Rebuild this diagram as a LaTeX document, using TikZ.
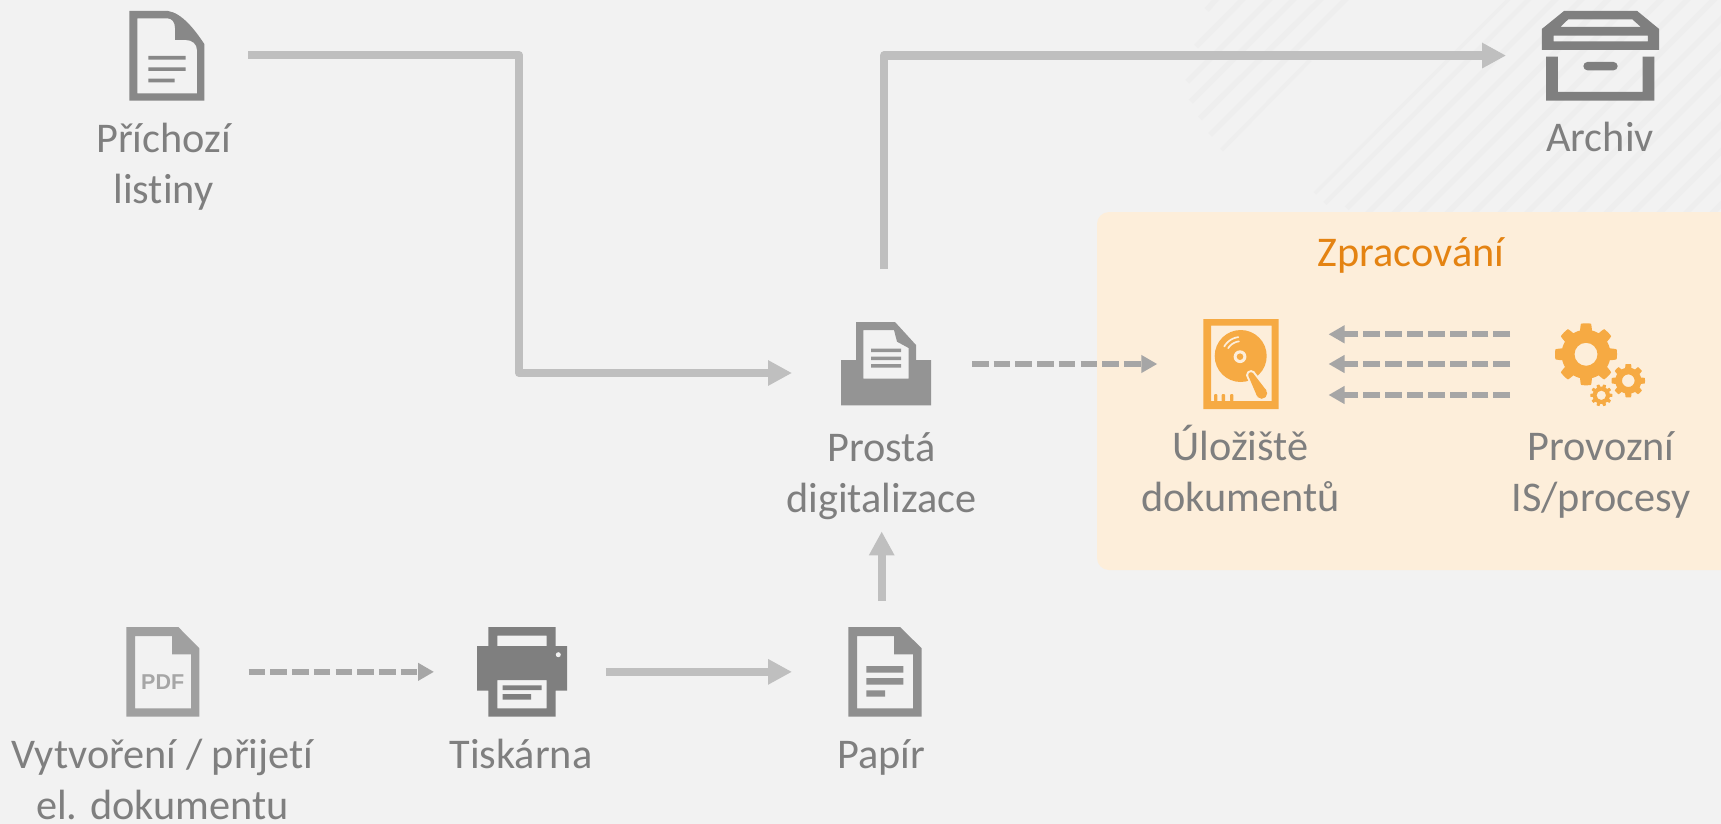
\documentclass[tikz,border=0pt]{standalone}
\usepackage{fontspec}
\setmainfont[Ligatures={NoCommon}]{Carlito}
\newfontfamily\pdffont{Liberation Sans}
\usetikzlibrary{arrows.meta}
\definecolor{bgc}{HTML}{F2F2F2}
\definecolor{hatchc}{HTML}{EEEEEE}
\definecolor{panelc}{HTML}{FDEEDA}
\definecolor{flowc}{HTML}{BFBFBF}
\definecolor{dashc}{HTML}{A6A6A6}
\definecolor{textc}{HTML}{7F7F7F}
\definecolor{accent}{HTML}{F6AA43}
\definecolor{titlec}{HTML}{E48312}
\tikzset{
  x=1pt,y=-1pt,
  iconbox/.style={inner sep=0pt,outer sep=0pt},
  lab/.style={inner sep=0pt,outer sep=0pt,anchor=base,align=center,text=textc,font=\fontsize{42.3}{51}\selectfont},
  flow/.style={draw=flowc,line width=8.3pt,line join=round,-{Triangle[length=24pt,width=24pt]}},
  dashflow/.style={draw=dashc,line width=6pt,dash pattern=on 16.6pt off 5.1pt,-{Triangle[length=16pt,width=17pt]}},
  hatchline/.style={draw=hatchc,line width=5.5pt},
  declare function={gearh(\a,\n)=min(1,max(0,(0.62-2*abs(mod(\a*\n/360+0.5,1)-0.5))/0.2));}
}
\newcommand{\gearshape}[6]{%
  \fill[accent,even odd rule] plot[domain=0:360,samples=361,variable=\a]
   ({#1+(#4+(#3-#4)*gearh(\a,#6))*cos(\a)},{#2+(#4+(#3-#4)*gearh(\a,#6))*sin(\a)}) -- cycle
   (#1,#2) circle[radius=#5pt];}
\begin{document}
\begin{tikzpicture}
\useasboundingbox (0,0) rectangle (1721,824);
\fill[bgc] (0,0) rectangle (1721,824);
% hatching
\begin{scope}
\clip (0,0) rectangle (1721,824);
\foreach \xa/\ya/\xb/\yb in {1206.7/10/1218/-3, 1196/46.7/1245/-3, 1187.3/81.7/1272/-3, 1190.7/101.7/1296/-3, 1200/118.3/1323/-3, 1210/135/1348/-3}
  \draw[hatchline,line cap=butt] (\xa,\ya) -- (\xb,\yb);
\draw[hatchline,line width=4pt] (1221.7,150) -- (1310,60);
\draw[hatchline,line width=3.5pt] (1315,193.3) -- (1511,-3);
\draw[hatchline,line width=4.5pt] (1325,203.3) -- (1531,-3);
\draw[hatchline] (1346.7,208.3) -- (1558,-3);
\foreach \c in {1581,1607.5,...,1960}
  \draw[hatchline] ({\c-230},230) -- ({\c+3},-3);
\end{scope}
% panel
\fill[panelc,rounded corners=12pt] (1097,212) rectangle (1740,570);
\node[inner sep=0pt,anchor=base,text=titlec,font=\fontsize{42.3}{50}\selectfont] (zprac) at (1411,266.5) {Zpracování};
% icon boxes
\node[iconbox,minimum width=75pt,minimum height=89.7pt] (doc1) at (166.8,55.85) {};
\node[iconbox,minimum width=117.3pt,minimum height=89.7pt] (box) at (1600.5,55.85) {};
\node[iconbox,minimum width=90pt,minimum height=84pt] (scan) at (886,364) {};
\node[iconbox,minimum width=75.4pt,minimum height=90pt] (disk) at (1241,364) {};
\node[iconbox,minimum width=90pt,minimum height=84pt] (gears) at (1600,364) {};
\node[iconbox,minimum width=73pt,minimum height=89.7pt] (pdf) at (162.8,671.85) {};
\node[iconbox,minimum width=90pt,minimum height=89.7pt] (printer) at (522,671.85) {};
\node[iconbox,minimum width=73.4pt,minimum height=89.7pt] (paper) at (885,671.85) {};
% connectors
\coordinate (k1) at (519,200);
\draw[flow] ([xshift=43.7pt,yshift=0.8pt]doc1.east) -| (k1) |- ([xshift=-49pt,yshift=-9pt]scan.west);
\draw[flow] ([xshift=-2pt,yshift=53pt]scan.north) |- ([xshift=-35.8pt,yshift=0.3pt]box.west);
\draw[dashflow] ([xshift=41pt]scan.east) -- ([xshift=-46pt]disk.west);
\draw[dashflow] ([xshift=-45pt,yshift=29.7pt]gears.west) -- ([xshift=49.8pt,yshift=29.7pt]disk.east);
\draw[dashflow] ([xshift=-45pt]gears.west) -- ([xshift=49.8pt]disk.east);
\draw[dashflow] ([xshift=-45pt,yshift=-31pt]gears.west) -- ([xshift=49.8pt,yshift=-31pt]disk.east);
\draw[dashflow] ([xshift=49.4pt]pdf.east) -- ([xshift=-43pt]printer.west);
\draw[flow] ([xshift=39pt]printer.east) -- ([xshift=-56.3pt]paper.west);
\draw[flow] ([xshift=-3.3pt,yshift=26pt]paper.north) -- ([xshift=-4.3pt,yshift=-125.4pt]scan.south);
% incoming document
\fill[color={rgb,255:red,136;green,136;blue,136},even odd rule]
  (129.3,11) -- (168,11) .. controls (182,13) and (195,30) .. (204.3,44) -- (204.3,100.7) -- (129.3,100.7) -- cycle
  (137.3,18.3) -- (137.3,93.3) -- (197,93.3) -- (197,50) .. controls (197,44) and (192,40) .. (186,40) -- (175,40) -- (175,28) .. controls (175,22) and (172,18.3) .. (167,18.3) -- cycle
  (148.3,56) rectangle (185.7,59.7) (148.3,67.3) rectangle (185.7,71) (148.3,78.7) rectangle (174.7,82.5);
% archive
\fill[textc,even odd rule] (1564,11) -- (1637.2,11) -- (1659.1,29) -- (1659.1,50) -- (1541.8,50) -- (1541.8,29) -- cycle
  (1568,19.5) -- (1632.5,19.5) -- (1640.9,27) -- (1560.4,27) -- cycle
  (1553.5,35.7) rectangle (1647.8,41.3);
\fill[textc] (1546.2,56.7) -- (1557.9,56.7) -- (1557.9,92) -- (1642.7,92) -- (1642.7,56.7) -- (1654.4,56.7) -- (1654.4,100.7) -- (1546.2,100.7) -- cycle;
\fill[textc,rounded corners=4pt] (1583.4,62) rectangle (1617.6,70.3);
% scanner
\fill[color={rgb,255:red,148;green,148;blue,148},even odd rule]
  (841,360) -- (856,360) -- (856,322) -- (895,322) -- (916,345) -- (916,360) -- (931,360) -- (931,405.3) -- (841,405.3) -- cycle
  (863.3,330) -- (894,330) -- (897,341.7) -- (908.6,348) -- (908.6,378.7) -- (863.3,378.7) -- cycle
  (871,348.7) rectangle (901,352.2) (871,356.7) rectangle (901,360.2) (871,364) rectangle (901,367.5);
% pdf document
\fill[color={rgb,255:red,160;green,160;blue,160},even odd rule]
  (126.3,627) -- (178.3,627) -- (199.3,648.3) -- (199.3,716.7) -- (126.3,716.7) -- cycle
  (135,636) -- (135,708.3) -- (191,708.3) -- (191,654.3) -- (172,654.3) -- (172,636) -- cycle;
\node[inner sep=0pt,text=dashc,font=\pdffont\bfseries\fontsize{21.5}{24}\selectfont] (pdftxt) at (162.7,682) {PDF};
% printer
\fill[textc,even odd rule]
  (488.3,627) -- (555.7,627) -- (555.7,646) -- (567,646) -- (567,690.7) -- (555.7,690.7) -- (555.7,716.7) -- (488.3,716.7) -- (488.3,690.7) -- (477,690.7) -- (477,646) -- (488.3,646) -- cycle
  (497.3,635.7) rectangle (546.7,646)
  (497.3,680) rectangle (546.7,708.3);
\fill[textc] (502.7,685.3) rectangle (541.7,690) (502.7,694) rectangle (531,699.5);
\fill[bgc] (558.3,654.7) circle[radius=2.5pt];
% paper
\fill[color={rgb,255:red,143;green,143;blue,143},even odd rule]
  (848.3,627) -- (900,627) -- (921.7,648.3) -- (921.7,716.7) -- (848.3,716.7) -- cycle
  (857,636) -- (857,708.3) -- (913,708.3) -- (913,654.3) -- (894,654.3) -- (894,636) -- cycle
  (866.3,666) rectangle (903.3,672.7) (866.3,678) rectangle (903.3,684.7) (866.3,690.3) rectangle (885,696.7);
% disk
\fill[accent,even odd rule] (1203.3,319) rectangle (1278.7,409) (1211,325.7) rectangle (1271.7,401);
\fill[accent] (1240.7,356) circle[radius=26pt];
\fill[panelc] (1240,356.7) circle[radius=6.4pt];
\fill[accent] (1240,356.7) circle[radius=3.3pt];
\draw[panelc,line width=1.7pt,line cap=round] plot[domain=97:150,samples=20,variable=\a] ({1240.7+19*cos(\a)},{356-19*sin(\a)});
\draw[panelc,line width=1.7pt,line cap=round] plot[domain=97:148,samples=20,variable=\a] ({1240.7+14.7*cos(\a)},{356-14.7*sin(\a)});
\fill[panelc,draw=panelc,line width=4pt] (1253.4,373.6) -- (1266.4,390.5) -- (1257,396.1) -- (1248.6,376.4) -- cycle (1251,375) circle[radius=2.8pt] (1261.7,393.3) circle[radius=5.5pt];
\fill[accent] (1253.4,373.6) -- (1266.4,390.5) -- (1257,396.1) -- (1248.6,376.4) -- cycle;
\fill[accent] (1251,375) circle[radius=2.8pt] (1261.7,393.3) circle[radius=5.5pt];
\foreach \tx in {1214,1221.7,1230}
  \fill[accent,rounded corners=1pt] (\tx,394) rectangle ++(3.3,7.5);
% gears
\gearshape{1586}{354.3}{31}{24.5}{11.5}{8}
\gearshape{1628.3}{380.7}{16.7}{13}{6.3}{8}
\gearshape{1601.3}{395.3}{11}{8.6}{4.7}{10}
% labels
\node[lab] (l1) at (163.5,203) {\fontsize{42.3}{50}\selectfont Příchozí\\listiny};
\node[lab] (l2) at (1600,151) {Archiv};
\node[lab] (l3) at (881.4,512) {Prostá\\digitalizace};
\node[lab] (l4) at (1240.6,511) {Úložiště\\dokumentů};
\node[lab] (l5) at (1601,511) {Provozní\\IS/procesy};
\node[lab] (l6) at (162.5,819) {Vytvoření / přijetí\\el. dokumentu};
\node[lab] (l7) at (521,768.5) {Tiskárna};
\node[lab] (l8) at (881,768.5) {Papír};
\end{tikzpicture}
\end{document}
